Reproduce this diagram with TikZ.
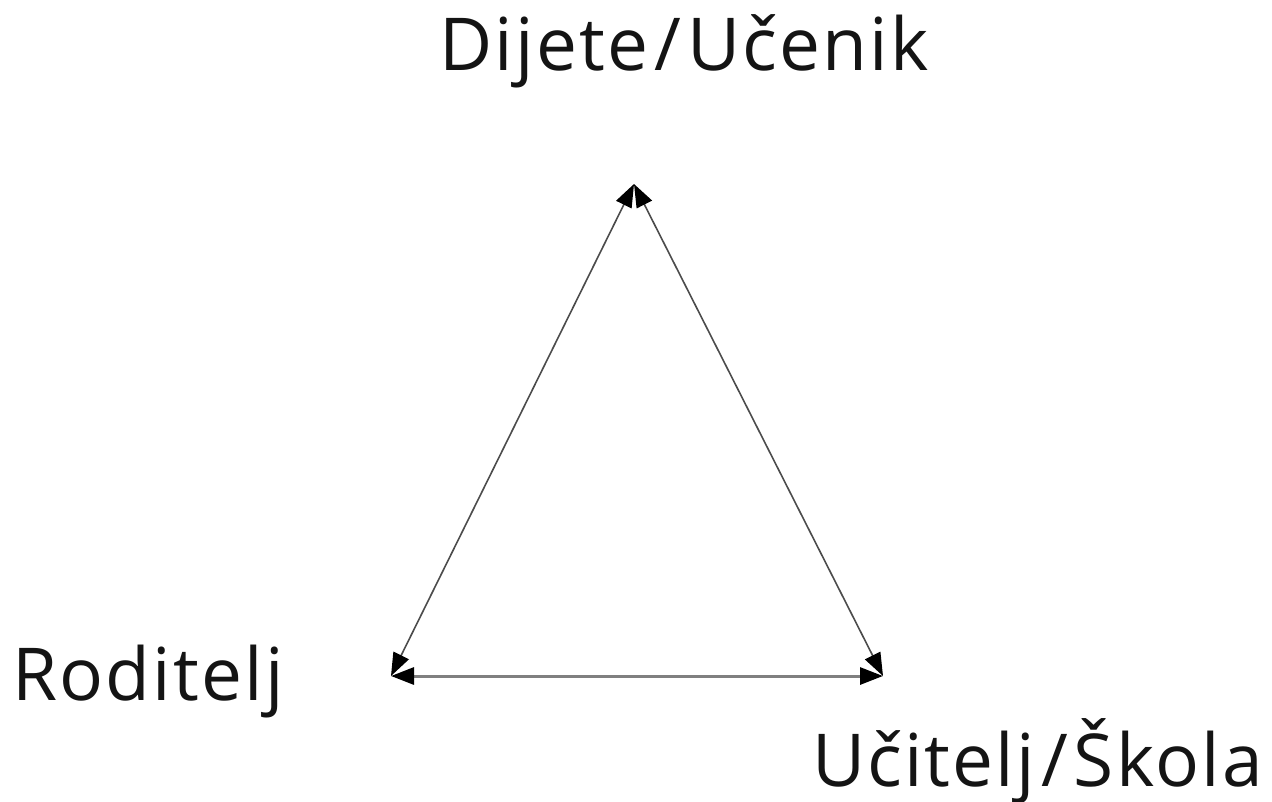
\documentclass[tikz,border=0pt]{standalone}
\usepackage{fontspec}
\setmainfont{Open Sans}[LetterSpace=3]
\usetikzlibrary{arrows.meta}
\newcommand{\slsh}{\hspace{6pt}/\hspace{6pt}}
\begin{document}
\begin{tikzpicture}[x=1pt,y=-1pt,
  lbl/.style={font=\fontsize{73}{88}\selectfont, inner sep=0pt, text=black!92},
  edge/.style={draw=black!70, line width=1.6pt, {Triangle[length=23pt,width=17pt,color=black]}-{Triangle[length=23pt,width=17pt,color=black]}},
  edgeb/.style={draw=black!50, line width=3pt, {Triangle[length=23pt,width=17pt,color=black]}-{Triangle[length=23pt,width=17pt,color=black]}}]
\useasboundingbox (0,0) rectangle (1272,801);
\coordinate (top) at (634,184);
\coordinate (bl) at (391,676);
\coordinate (br) at (883,676);
\node[lbl, anchor=base] (dijete) at (684,70) {Dijete\slsh Učenik};
\node[lbl, anchor=base west] (roditelj) at (12,700) {Roditelj};
\node[lbl, anchor=base east] (ucitelj) at (1263,786) {Učitelj\slsh Škola};
\draw[edge] (bl) -- (top);
\draw[edge] (br) -- (top);
\draw[edgeb] (bl) -- (br);
\end{tikzpicture}
\end{document}
